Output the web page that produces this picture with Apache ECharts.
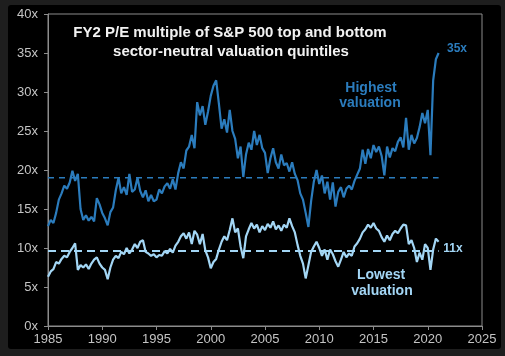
<!DOCTYPE html>
<html>
<head>
<meta charset="utf-8">
<script src="https://cdn.jsdelivr.net/npm/echarts@6/dist/echarts.min.js"></script>
<style>
html,body{margin:0;padding:0;background:#1e1e1e;}
#c{width:505px;height:356px;}
</style>
</head>
<body>
<div id="c"></div>
<script>
// Data: quarterly observations starting 1985.0
var startYear = 1985;
var step = 0.25;
var highValuation = [
  12.8, 13.6, 13.2, 14.5,
  16.2, 17.0, 18.0, 17.6,
  18.4, 19.9, 18.6, 19.5,
  15.0, 13.6, 14.2, 13.5,
  14.0, 13.4, 16.4, 15.6,
  14.5, 13.8, 12.9, 14.6,
  15.2, 17.4, 19.0, 17.0,
  17.8, 16.8, 19.5, 17.2,
  17.5, 19.0, 17.3, 16.5,
  17.4, 16.0, 16.8, 16.0,
  16.2, 17.5, 17.0, 17.9,
  18.3, 17.6, 18.8, 17.5,
  19.6, 21.0, 20.2, 22.5,
  23.0, 24.5, 22.8, 28.7,
  27.0, 28.2, 25.8, 27.5,
  29.5, 30.8, 31.5, 28.5,
  25.3, 26.5, 24.8, 27.7,
  25.0, 24.0, 21.5, 23.0,
  19.1, 22.0, 23.5, 22.6,
  25.0, 23.2, 24.5, 22.8,
  22.2, 19.6, 21.5, 22.8,
  21.0, 20.2, 22.0, 20.6,
  20.9, 19.8, 21.0, 19.5,
  18.7, 17.0, 16.2, 14.5,
  12.7, 16.0, 18.5, 20.0,
  18.2, 19.3, 17.0, 18.5,
  16.2, 18.4, 15.3, 17.2,
  17.8, 16.5, 17.6, 18.0,
  17.5, 18.6, 19.4, 20.2,
  22.6, 20.8, 22.7, 21.5,
  23.2, 22.3, 23.0, 21.8,
  19.3, 23.0, 21.6, 22.8,
  22.4, 23.6, 24.2, 22.9,
  26.7, 22.6, 24.5, 23.4,
  24.1, 25.5, 27.3, 26.0,
  27.7, 21.9, 31.5, 34.2,
  35.0
];
var lowValuation = [
  6.3, 7.0, 7.3, 8.2,
  8.0, 8.6, 9.0, 8.8,
  9.5, 10.0, 10.6, 7.2,
  7.8, 7.5, 7.9, 7.3,
  8.0, 8.5, 8.8, 8.0,
  7.5, 7.2, 6.0, 7.5,
  8.5, 9.0, 8.7, 9.5,
  9.2, 10.0, 9.3, 9.8,
  10.5, 10.0, 10.8, 11.0,
  9.5, 9.3, 9.0, 9.2,
  8.8, 9.1, 9.0, 9.6,
  9.3, 9.9, 9.4, 10.3,
  10.8, 11.5, 11.9, 11.2,
  12.0, 10.5, 12.2, 11.7,
  10.5, 11.8, 9.7, 8.8,
  7.4, 8.2, 8.6, 9.8,
  10.8, 11.5, 11.0, 12.3,
  13.8, 12.0, 12.5, 10.2,
  8.7, 11.5, 12.4, 13.2,
  12.5, 13.0, 12.0, 12.8,
  12.3, 13.1, 12.6, 13.4,
  12.4, 12.9, 12.2, 13.0,
  12.6, 13.8, 12.8, 12.0,
  10.4, 9.0, 8.0, 6.1,
  7.8, 9.5, 10.2, 10.8,
  10.0, 9.0, 9.8, 8.5,
  9.8, 9.2, 8.3, 7.6,
  8.5, 9.5, 8.8, 9.3,
  9.0, 10.2, 10.6, 11.2,
  12.0, 12.4, 13.0, 12.6,
  13.2, 12.5, 12.2, 11.4,
  10.8, 11.6, 11.0, 11.8,
  12.2, 11.9, 12.5, 13.0,
  12.9, 10.5, 11.0, 10.0,
  8.2, 9.4, 8.5, 10.5,
  10.0, 7.2, 9.8, 11.2,
  10.8
];
var highAverage = 19.0;
var lowAverage = 9.6;
var averageSpan = [1985, 2021];
var yTicks = [0, 5, 10, 15, 20, 25, 30, 35, 40];
var xTicks = [1985, 1990, 1995, 2000, 2005, 2010, 2015, 2020, 2025];

function toPairs(arr){
  return arr.map(function(v,i){ return [startYear + i*step, v]; });
}

var HIGH = '#2b7cbd';
var LOW = '#a3d6f5';
var AXIS = '#8c8c8c';
var LABEL = '#c4c4c4';
var FONT = 'Arial, "Liberation Sans", sans-serif';

var chart = echarts.init(document.getElementById('c'), null, {renderer:'canvas'});
chart.setOption({
  backgroundColor: '#1e1e1e',
  animation: false,
  grid: {left: 48, right: 23, top: 14, bottom: 30, show: true, borderColor: AXIS, borderWidth: 1, backgroundColor: '#000'},
  graphic: [
    {type:'rect', z:-10, shape:{x:8, y:5, width:493, height:344, r:3}, style:{fill:'#000'}},
    {type:'text', z: 10, style:{text:'FY2 P/E multiple of S&P 500 top and bottom', x:230, y:33, textAlign:'center', textVerticalAlign:'middle', fill:'#f2f2f2', font:'bold 15px ' + FONT}},
    {type:'text', z: 10, style:{text:'sector-neutral valuation quintiles', x:231, y:52, textAlign:'center', textVerticalAlign:'middle', fill:'#f2f2f2', font:'bold 15px ' + FONT}},
    {type:'text', z: 10, style:{text:'Highest', x:371, y:88, textAlign:'center', textVerticalAlign:'middle', fill:HIGH, font:'bold 14px ' + FONT}},
    {type:'text', z: 10, style:{text:'valuation', x:370, y:103, textAlign:'center', textVerticalAlign:'middle', fill:HIGH, font:'bold 14px ' + FONT}},
    {type:'text', z: 10, style:{text:'35x', x:457, y:49, textAlign:'center', textVerticalAlign:'middle', fill:HIGH, font:'bold 12px ' + FONT}},
    {type:'text', z: 10, style:{text:'11x', x:453, y:249, textAlign:'center', textVerticalAlign:'middle', fill:LOW, font:'bold 12px ' + FONT}},
    {type:'text', z: 10, style:{text:'Lowest', x:381, y:275, textAlign:'center', textVerticalAlign:'middle', fill:LOW, font:'bold 14px ' + FONT}},
    {type:'text', z: 10, style:{text:'valuation', x:382, y:291, textAlign:'center', textVerticalAlign:'middle', fill:LOW, font:'bold 14px ' + FONT}}
  ],
  xAxis: {
    type: 'value', min: xTicks[0], max: xTicks[xTicks.length-1], interval: 5,
    axisLine: {show:true, lineStyle:{color:AXIS, width:1}},
    axisTick: {show:true, length:4, lineStyle:{color:AXIS}},
    splitLine: {show:false},
    axisLabel: {color: LABEL, fontSize: 13, fontFamily: FONT, margin: 7, formatter: function(v){ return String(v); }}
  },
  yAxis: {
    type: 'value', min: yTicks[0], max: yTicks[yTicks.length-1], interval: 5,
    axisLine: {show:true, lineStyle:{color:AXIS, width:1}},
    axisTick: {show:true, length:4, lineStyle:{color:AXIS}},
    splitLine: {show:false},
    axisLabel: {color: LABEL, fontSize: 13, fontFamily: FONT, margin: 10, formatter: function(v){ return v + 'x'; }}
  },
  series: [
    {type:'line', data: averageSpan.map(function(x){return [x, highAverage];}), symbol:'none', lineStyle:{color:HIGH, width:1.5, type:[6,5]}, z:1},
    {type:'line', data: averageSpan.map(function(x){return [x, lowAverage];}), symbol:'none', lineStyle:{color:LOW, width:2, type:[8,5]}, z:1},
    {type:'line', data: toPairs(highValuation), symbol:'none', lineStyle:{color:HIGH, width:2.2}, z:3},
    {type:'line', data: toPairs(lowValuation), symbol:'none', lineStyle:{color:LOW, width:2.2}, z:3}
  ]
});
</script>
</body>
</html>
